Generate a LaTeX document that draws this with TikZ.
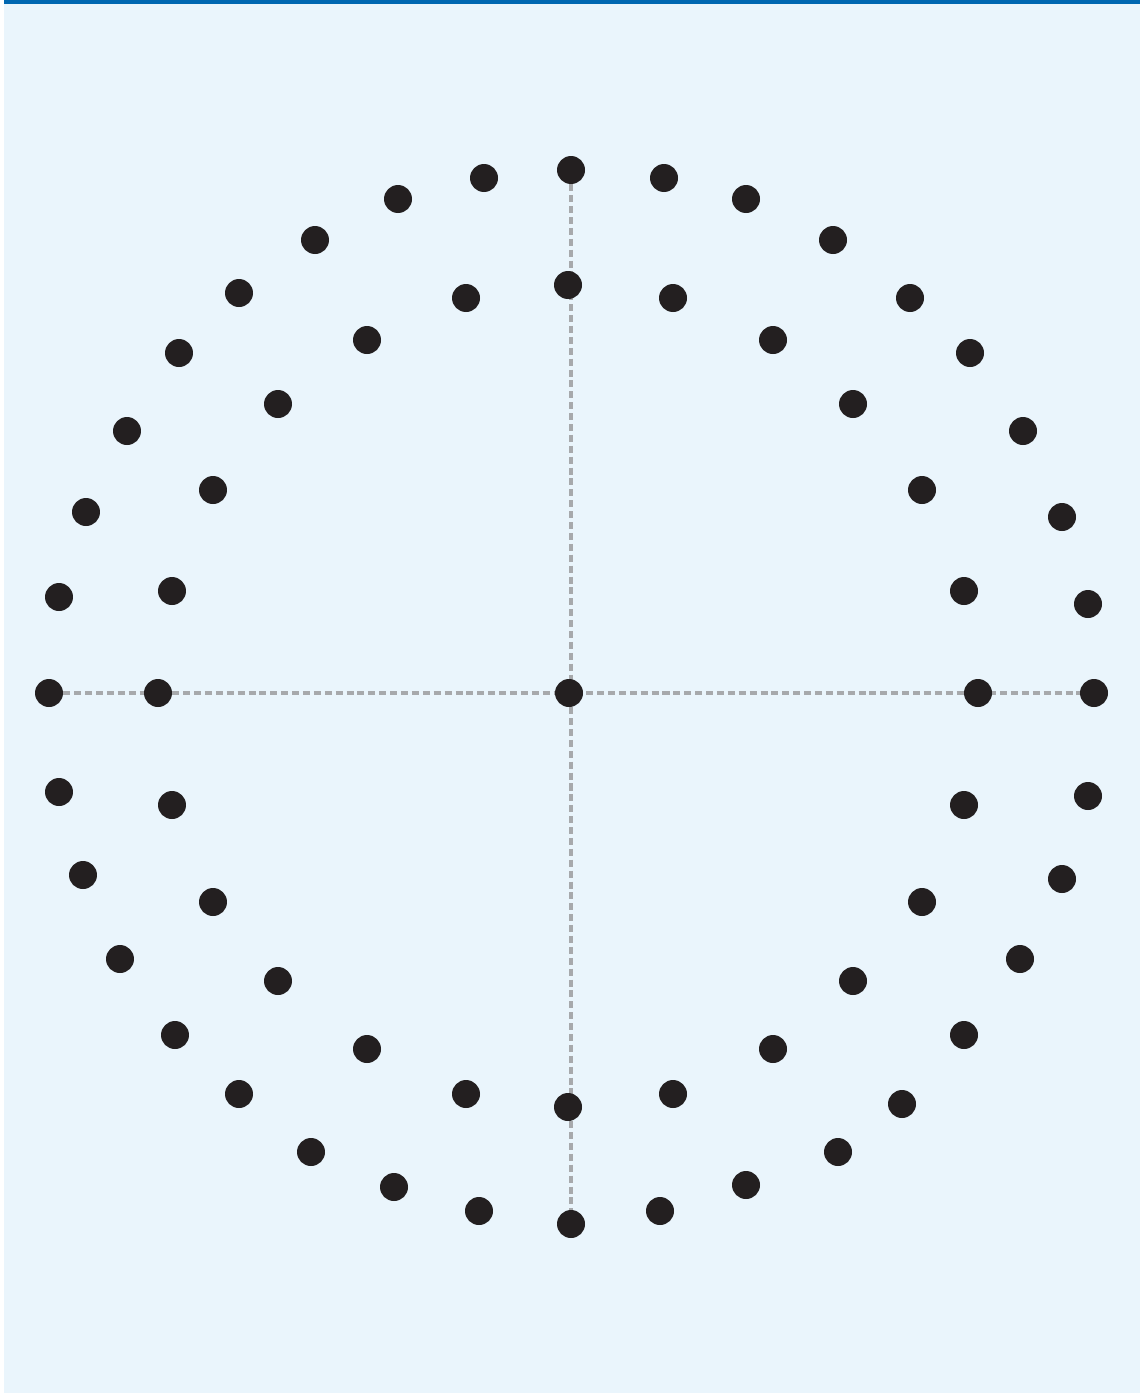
\documentclass[tikz,border=0pt]{standalone}
\definecolor{azulfondo}{HTML}{EAF5FC}
\definecolor{azulbarra}{HTML}{0067B1}
\definecolor{negropunto}{HTML}{231F20}
\definecolor{grisguia}{HTML}{A7A9AC}
\pgfdeclarelayer{fondo}
\pgfdeclarelayer{guias}
\pgfsetlayers{fondo,guias,main}
\tikzset{
  punto/.style={circle, fill=negropunto, inner sep=0pt, minimum size=0.56cm},
  guia/.style={grisguia, line width=1.9pt, dash pattern=on 4pt off 2.2pt}
}
\begin{document}
\begin{tikzpicture}[x=0.02cm, y=-0.02cm]
  \useasboundingbox (0,0) rectangle (1144,1393);
  % Fondo y barra superior
  \begin{pgfonlayer}{fondo}
    \fill[azulfondo] (4,0) rectangle (1140,1393);
    \fill[azulbarra] (4,0) rectangle (1140,3.5);
  \end{pgfonlayer}
  % Anillo exterior (36 puntos)
  \foreach \x/\y [count=\n] in {571/170, 664/178, 746/199, 833/240, 910/298,
      970/353, 1023/431, 1062/517, 1088/604, 1094/693, 1088/796, 1062/879,
      1020/959, 964/1035, 902/1104, 838/1152, 746/1185, 660/1211, 571/1224,
      479/1211, 394/1187, 311/1152, 239/1094, 175/1035, 120/959, 83/875,
      59/792, 49/693, 59/597, 86/512, 127/431, 179/353, 239/293, 315/240,
      398/199, 484/178}
    \node[punto] (o\n) at (\x,\y) {};
  % Anillo interior (24 puntos)
  \foreach \x/\y [count=\n] in {568/285, 673/298, 773/340, 853/404, 922/490,
      964/591, 978/693, 964/805, 922/902, 853/981, 773/1049, 673/1094,
      568/1107, 466/1094, 367/1049, 278/981, 213/902, 172/805, 158/693,
      172/591, 213/490, 278/404, 367/340, 466/298}
    \node[punto] (i\n) at (\x,\y) {};
  % Punto central
  \node[punto] (c) at (569,693) {};
  % Ejes punteados
  \begin{pgfonlayer}{guias}
    \draw[guia] (o1) -- (o19);
    \draw[guia] (o28) -- (o10);
  \end{pgfonlayer}
\end{tikzpicture}
\end{document}
